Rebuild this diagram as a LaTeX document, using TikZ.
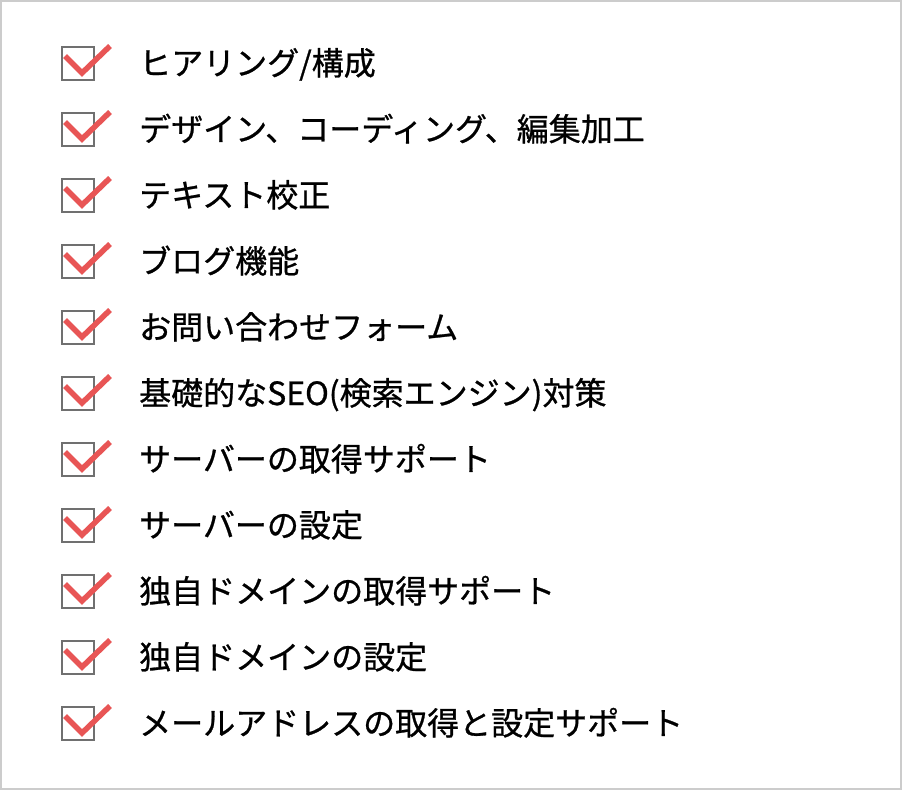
\documentclass[tikz,border=0pt]{standalone}
\usepackage{fontspec}
\newfontfamily\jpfont[FakeBold=0.8]{Noto Sans CJK JP}
\definecolor{checkred}{HTML}{E85555}
\definecolor{boxgray}{HTML}{707070}
\definecolor{framegray}{HTML}{CCCCCC}
\tikzset{
  checkbox/.style={draw=boxgray,line width=2pt,minimum width=32pt,minimum height=33pt,inner sep=0pt},
  checkmark/.style={draw=checkred,line width=5.5pt},
  itemtext/.style={anchor=base west,inner sep=0pt,font=\jpfont\fontsize{32}{38}\selectfont}
}
\begin{document}
\begin{tikzpicture}[x=1pt,y=-1pt]
        \draw[framegray,line width=2pt,fill=white] (1,1) rectangle (901,789);
        
        \foreach \txt [count=\i] in {{ヒアリング/構成},{デザイン、コーディング、編集加工},{テキスト校正},{ブログ機能},
          {お問い合わせフォーム},{基礎的なSEO(検索エンジン)対策},{サーバーの取得サポート},{サーバーの設定},
          {独自ドメインの取得サポート},{独自ドメインの設定},{メールアドレスの取得と設定サポート}}{
          \node[checkbox] (box\i) at (78,{63.5+66*(\i-1)}) {};
          \draw[checkmark] (box\i.north west) ++(4,10) coordinate (tick\i) -- ++(17,17) -- ++(28,-27);
          \node[itemtext] (item\i) at (139,{75+66*(\i-1)}) {\txt};
        }
      \end{tikzpicture}
\end{document}
